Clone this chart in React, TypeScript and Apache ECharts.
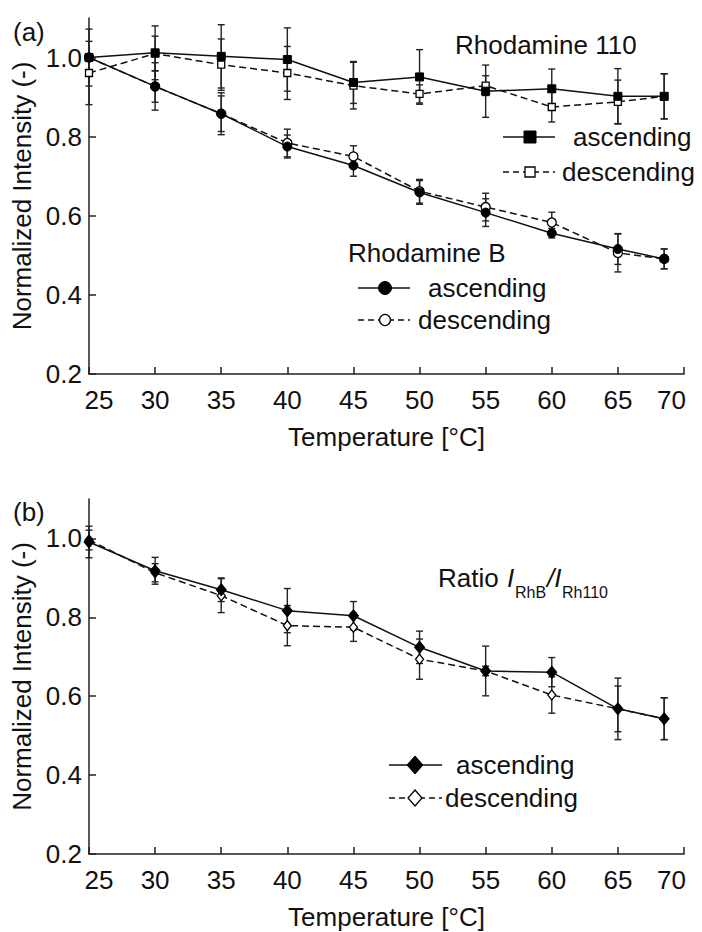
import React, { useEffect, useRef } from 'react';
import * as echarts from 'echarts';

// ---------- data ----------
const temperatures = [25, 30, 35, 40, 45, 50, 55, 60, 65, 68.5];
const yTickValues = [0.2, 0.4, 0.6, 0.8, 1.0];

// (a) Rhodamine 110
const rh110Asc = [1.0, 1.012, 1.003, 0.995, 0.937, 0.951, 0.915, 0.921, 0.902, 0.902];
const rh110AscErr = [0.072, 0.068, 0.08, 0.08, 0.053, 0.069, 0.066, 0.05, 0.07, 0.057];
const rh110Desc = [0.961, 1.01, 0.982, 0.961, 0.929, 0.908, 0.929, 0.875, 0.888, 0.902];
const rh110DescErr = [0.08, 0.044, 0.065, 0.067, 0.059, 0.023, 0.025, 0.038, 0.055, 0.057];

// (a) Rhodamine B
const rhBAsc = [1.0, 0.927, 0.858, 0.775, 0.727, 0.659, 0.608, 0.556, 0.516, 0.491];
const rhBAscErr = [0, 0.04, 0.045, 0.029, 0.027, 0.03, 0.035, 0.012, 0.039, 0.025];
const rhBDesc = [1.0, 0.927, 0.858, 0.784, 0.75, 0.662, 0.622, 0.583, 0.506, 0.491];
const rhBDescErr = [0, 0.06, 0.053, 0.035, 0.027, 0.03, 0.035, 0.026, 0.048, 0.025];

// (b) Ratio I_RhB / I_Rh110
const ratioAsc = [0.991, 0.918, 0.87, 0.817, 0.804, 0.724, 0.664, 0.661, 0.568, 0.543];
const ratioAscErr = [0.04, 0.034, 0.03, 0.056, 0.036, 0.041, 0.063, 0.037, 0.078, 0.053];
const ratioDesc = [0.996, 0.913, 0.855, 0.779, 0.775, 0.694, 0.664, 0.603, 0.568, 0.543];
const ratioDescErr = [0.025, 0.023, 0.043, 0.051, 0.036, 0.051, 0.012, 0.046, 0.058, 0.053];

// ---------- styling ----------
const FONT = '"Liberation Sans", Arial, Helvetica, sans-serif';
const INK = '#111';
const AXIS = '#222';
const FS = 26;
const DASH = [7, 4];

const pts = (vals: number[]) => temperatures.map((t, i) => [t, vals[i]]);
const errPts = (vals: number[], errs: number[]) =>
  temperatures.map((t, i) => [t, vals[i], errs[i]]);

const errorSeries = (grid: number, vals: number[], errs: number[]) => ({
  type: 'custom',
  xAxisIndex: grid,
  yAxisIndex: grid,
  silent: true,
  z: 1,
  encode: { x: 0, y: 1 },
  data: errPts(vals, errs),
  renderItem: (_params: any, api: any) => {
    const x = api.value(0);
    const y = api.value(1);
    const e = api.value(2);
    if (!e) return { type: 'group', children: [] };
    const top = api.coord([x, y + e]);
    const bot = api.coord([x, y - e]);
    const hw = 3.5;
    const st = { stroke: AXIS, lineWidth: 1.4 };
    return {
      type: 'group',
      children: [
        { type: 'line', shape: { x1: top[0], y1: top[1], x2: bot[0], y2: bot[1] }, style: st },
        { type: 'line', shape: { x1: top[0] - hw, y1: top[1], x2: top[0] + hw, y2: top[1] }, style: st },
        { type: 'line', shape: { x1: bot[0] - hw, y1: bot[1], x2: bot[0] + hw, y2: bot[1] }, style: st },
      ],
    };
  },
});

const lineSeries = (
  grid: number,
  name: string,
  vals: number[],
  symbol: string,
  size: number | number[],
  filled: boolean,
) => ({
  type: 'line',
  name,
  xAxisIndex: grid,
  yAxisIndex: grid,
  silent: true,
  z: filled ? 4 : 3,
  data: pts(vals),
  symbol,
  symbolSize: size,
  showSymbol: true,
  itemStyle: filled
    ? { color: '#000', borderColor: '#000', borderWidth: 1 }
    : { color: '#fff', borderColor: '#000', borderWidth: 1.3 },
  lineStyle: { color: INK, width: 1.5, type: filled ? 'solid' : DASH },
});

const xAxisFor = (grid: number) => ({
  type: 'value',
  gridIndex: grid,
  min: 25,
  max: 70,
  interval: 5,
  name: 'Temperature [°C]',
  nameLocation: 'middle',
  nameGap: 50,
  nameTextStyle: { fontSize: FS, fontFamily: FONT, color: INK },
  splitLine: { show: false },
  axisLine: { lineStyle: { color: AXIS, width: 1.5 } },
  axisTick: { inside: true, length: 7, lineStyle: { color: AXIS, width: 1.5 } },
  axisLabel: {
    margin: 13,
    fontSize: FS,
    fontFamily: FONT,
    color: INK,
    showMinLabel: true,
    showMaxLabel: true,
    formatter: (v: number) => (v === 25 ? '{l|25}' : v === 70 ? '{r|70}' : String(v)),
    rich: {
      l: { padding: [0, 0, 0, 20], fontSize: FS, fontFamily: FONT, color: INK },
      r: { padding: [0, 25, 0, 0], fontSize: FS, fontFamily: FONT, color: INK },
    },
  },
});

const yAxisFor = (grid: number) => ({
  type: 'value',
  gridIndex: grid,
  min: 0.2,
  max: 1.1,
  name: 'Normalized Intensity (-)',
  nameLocation: 'middle',
  nameGap: 50,
  nameTextStyle: { fontSize: FS, fontFamily: FONT, color: INK },
  splitLine: { show: false },
  axisLine: { show: true, lineStyle: { color: AXIS, width: 1.5 } },
  axisTick: {
    show: true,
    inside: true,
    length: 7,
    customValues: yTickValues,
    lineStyle: { color: AXIS, width: 1.5 },
  },
  axisLabel: {
    margin: 7,
    fontSize: FS,
    fontFamily: FONT,
    color: INK,
    customValues: yTickValues,
    formatter: (v: number) => v.toFixed(1),
  },
});

const txt = (text: string, x: number, y: number, extra: any = {}) => ({
  type: 'text',
  x,
  y,
  silent: true,
  style: {
    text,
    fontSize: FS,
    fontFamily: FONT,
    fill: INK,
    align: 'left',
    verticalAlign: 'middle',
    ...extra,
  },
});

const legLine = (x1: number, x2: number, y: number, dashed: boolean) => ({
  type: 'line',
  silent: true,
  shape: { x1, y1: y, x2, y2: y },
  style: { stroke: INK, lineWidth: 1.5, lineDash: dashed ? [6, 4] : null },
});

const filledStyle = { fill: '#000', stroke: '#000', lineWidth: 1 };
const openStyle = { fill: '#fff', stroke: '#000', lineWidth: 1.3 };

const square = (cx: number, cy: number, s: number, filled: boolean) => ({
  type: 'rect',
  silent: true,
  shape: { x: cx - s / 2, y: cy - s / 2, width: s, height: s },
  style: filled ? filledStyle : openStyle,
});
const circ = (cx: number, cy: number, r: number, filled: boolean) => ({
  type: 'circle',
  silent: true,
  shape: { cx, cy, r },
  style: filled ? filledStyle : openStyle,
});
const diamond = (cx: number, cy: number, hw: number, hh: number, filled: boolean) => ({
  type: 'polygon',
  silent: true,
  shape: { points: [[cx, cy - hh], [cx + hw, cy], [cx, cy + hh], [cx - hw, cy]] },
  style: filled ? filledStyle : openStyle,
});

export default function App() {
  const ref = useRef<HTMLDivElement>(null);

  useEffect(() => {
    if (!ref.current) return;
    const chart = echarts.init(ref.current, undefined, { renderer: 'svg' });
    chart.setOption({
      animation: false,
      backgroundColor: '#fff',
      grid: [
        { left: 89, top: 18, width: 595, height: 356 },
        { left: 89, top: 499, width: 595, height: 355 },
      ],
      xAxis: [xAxisFor(0), xAxisFor(1)],
      yAxis: [yAxisFor(0), yAxisFor(1)],
      series: [
        errorSeries(0, rh110Desc, rh110DescErr),
        errorSeries(0, rh110Asc, rh110AscErr),
        errorSeries(0, rhBDesc, rhBDescErr),
        errorSeries(0, rhBAsc, rhBAscErr),
        lineSeries(0, 'Rhodamine 110 descending', rh110Desc, 'rect', 7, false),
        lineSeries(0, 'Rhodamine 110 ascending', rh110Asc, 'rect', 8, true),
        lineSeries(0, 'Rhodamine B descending', rhBDesc, 'circle', 9, false),
        lineSeries(0, 'Rhodamine B ascending', rhBAsc, 'circle', 9, true),
        errorSeries(1, ratioDesc, ratioDescErr),
        errorSeries(1, ratioAsc, ratioAscErr),
        lineSeries(1, 'Ratio descending', ratioDesc, 'diamond', [8, 10], false),
        lineSeries(1, 'Ratio ascending', ratioAsc, 'diamond', [10, 12], true),
      ],
      graphic: [
        txt('(a)', 13, 32),
        txt('(b)', 13, 512),
        // Rhodamine 110 legend
        txt('Rhodamine 110', 455, 45),
        legLine(503, 555, 137, false),
        square(530, 137, 12, true),
        txt('ascending', 573, 137),
        legLine(503, 555, 172, true),
        square(530, 172, 10, false),
        txt('descending', 562, 172),
        // Rhodamine B legend
        txt('Rhodamine B', 348, 253),
        legLine(358, 410, 288, false),
        circ(385, 288, 6.5, true),
        txt('ascending', 428, 288),
        legLine(358, 410, 320, true),
        circ(385, 320, 5.5, false),
        txt('descending', 418, 320),
        // Ratio label
        txt('Ratio', 438, 578),
        txt('I', 507, 578, { fontStyle: 'italic' }),
        txt('RhB', 515, 592, { fontSize: 16 }),
        txt('/I', 547, 578, { fontStyle: 'italic' }),
        txt('Rh110', 562, 592, { fontSize: 16 }),
        // Ratio legend
        legLine(389, 442, 765, false),
        diamond(415, 765, 8, 9, true),
        txt('ascending', 456, 765),
        legLine(389, 442, 798, true),
        diamond(415, 798, 7, 8, false),
        txt('descending', 445, 798),
      ],
    });
    return () => chart.dispose();
  }, []);

  return (
    <div
      ref={ref}
      style={{ position: 'fixed', left: 0, top: 0, width: 702, height: 932, background: '#fff' }}
    />
  );
}
